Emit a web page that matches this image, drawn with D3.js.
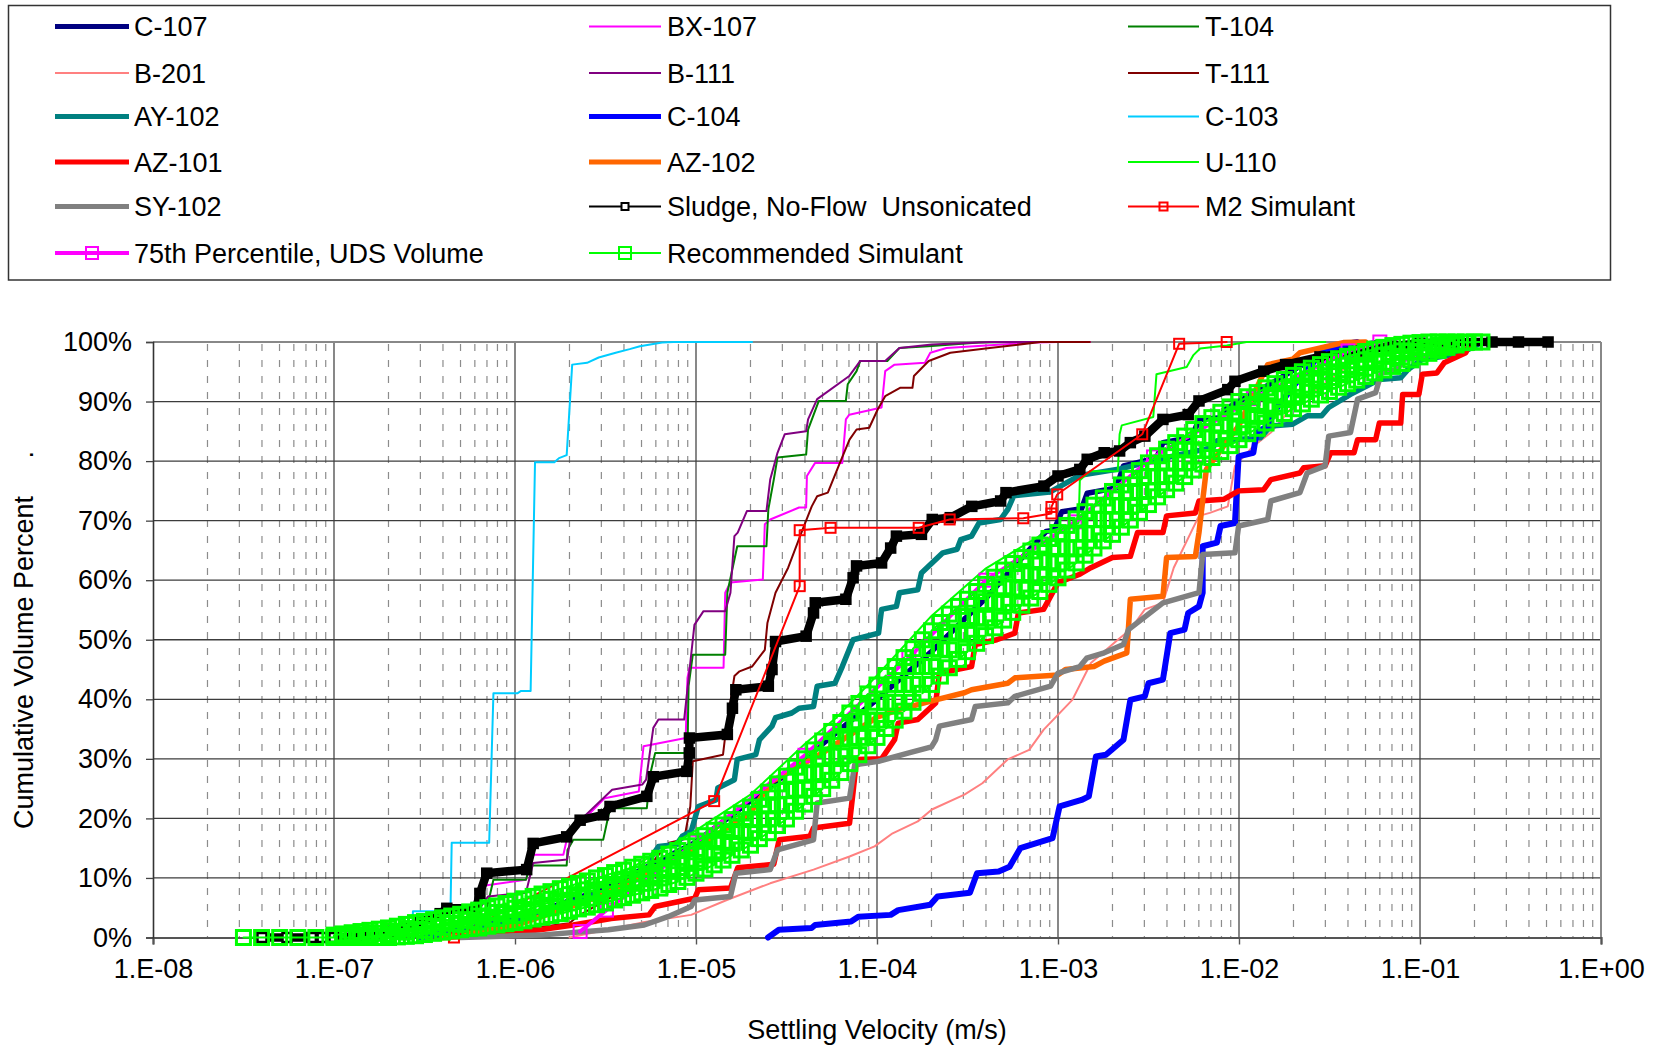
<!DOCTYPE html>
<html><head><meta charset="utf-8">
<script src="https://cdn.jsdelivr.net/npm/d3@7"></script>
<style>body{margin:0;background:#fff}svg{display:block;font-family:Arial,"Liberation Sans",sans-serif}</style>
</head><body><svg id="chart" width="1656" height="1048"></svg>
<script>
// ---------------- data (settling velocity m/s, cumulative volume %) ----------------
const xTickValues = [1e-8,1e-7,1e-6,1e-5,1e-4,1e-3,1e-2,1e-1,1];
const xTickLabels = ["1.E-08","1.E-07","1.E-06","1.E-05","1.E-04","1.E-03","1.E-02","1.E-01","1.E+00"];
const yTickValues = [0,10,20,30,40,50,60,70,80,90,100];
const yTickLabels = ["0%","10%","20%","30%","40%","50%","60%","70%","80%","90%","100%"];

const seriesNames = ["C-107","BX-107","T-104","B-201","B-111","T-111","AY-102","C-104","C-103","AZ-101","AZ-102","U-110","SY-102","Sludge, No-Flow  Unsonicated","M2 Simulant","75th Percentile, UDS Volume","Recommended Simulant"];

const C107 = [[3e-7,0],[1e-6,3],[3e-6,8],[1e-5,16],[3e-5,27],[1e-4,40],[2e-4,48],[4e-4,57],[6e-4,63],[8.6e-4,68.2],[9.5e-4,68.4],[1.05e-3,71.5],[1.35e-3,72],[1.45e-3,74.6],[2.1e-3,75.5],[2.3e-3,79.2],[3.5e-3,80.5],[3.8e-3,83.1],[5.5e-3,84],[6e-3,87],[8e-3,87.3],[8.5e-3,88.8],[1.5e-2,93],[3e-2,98.5],[6e-2,100]];
const BX107 = [[3.5e-7,0],[5.6e-7,3.5],[6.4e-7,8.6],[1.15e-6,9.7],[1.26e-6,13.9],[1.85e-6,13.9],[1.95e-6,17],[3.13e-6,23.4],[4.83e-6,24.5],[5.13e-6,32.1],[8.77e-6,33.5],[8.97e-6,43.6],[9.2e-6,45.3],[1.42e-5,45.3],[1.45e-5,57.9],[1.55e-5,59.6],[2.34e-5,60.1],[2.4e-5,69.4],[2.57e-5,70.2],[3.71e-5,72.2],[4.06e-5,72.2],[4.1e-5,77.5],[4.55e-5,79.7],[6.43e-5,79.7],[6.73e-5,87.0],[7.03e-5,87.8],[1.06e-4,89.0],[1.11e-4,95.1],[1.25e-4,96.2],[1.84e-4,96.5],[1.97e-4,98.2],[2.42e-4,99.0],[7.26e-4,99.9],[1.0e-3,100],[1.5e-3,100]];
const T104 = [[3.5e-7,0],[5.5e-7,3],[7.0e-7,5],[7.6e-7,9.7],[1.15e-6,9.7],[1.21e-6,12.1],[1.93e-6,12.1],[1.95e-6,14.7],[2.1e-6,16.4],[3.07e-6,16.4],[3.35e-6,21.7],[5.35e-6,21.7],[5.57e-6,27.3],[5.95e-6,31],[8.97e-6,31],[9.1e-6,42.2],[9.6e-6,47.5],[1.45e-5,47.5],[1.49e-5,57.9],[1.69e-5,65.7],[2.45e-5,65.7],[2.51e-5,71.9],[2.69e-5,76.9],[2.82e-5,80.6],[4.06e-5,81.1],[4.16e-5,85.3],[4.77e-5,90.1],[6.73e-5,90.1],[6.89e-5,92.9],[7.71e-5,95.1],[8.07e-5,96.8],[1.14e-4,96.8],[1.33e-4,99.0],[1.92e-4,99.3],[3.66e-4,99.9],[6e-4,100],[1e-3,100]];
const B201 = [[2e-6,0],[5e-6,2.5],[9.4e-6,3.8],[1.48e-5,6.3],[2.57e-5,9.1],[4.46e-5,11.4],[7.05e-5,13.6],[9.7e-5,15.3],[1.22e-4,17.5],[1.68e-4,19.5],[2.01e-4,21.5],[3.04e-4,24.0],[3.82e-4,25.9],[5.27e-4,29.9],[6.93e-4,31.5],[8.34e-4,34.9],[1.2e-3,39.9],[1.52e-3,46.1],[2.14e-3,50.0],[2.51e-3,51.7],[3.02e-3,55.1],[3.8e-3,56.2],[4.36e-3,62.1],[6.01e-3,70.8],[6.9e-3,71.3],[8.67e-3,72.4],[9.5e-3,79.2],[1.2e-2,82.5],[1.5e-2,84.8],[1.98e-2,89.2],[2.86e-2,92.6],[3.77e-2,95.4],[5.96e-2,100]];
const B111 = [[3.5e-7,0],[5.5e-7,3],[6.5e-7,5.2],[7.1e-7,6.9],[1.15e-6,7.5],[1.26e-6,12.5],[1.94e-6,13.1],[2.03e-6,17.0],[2.12e-6,18.7],[3.44e-6,24.8],[5.06e-6,25.7],[5.3e-6,26.5],[5.81e-6,35.2],[6.2e-6,36.6],[8.6e-6,36.6],[9.8e-6,52.5],[1.1e-5,54.8],[1.45e-5,54.8],[1.55e-5,57.9],[1.63e-5,67.4],[1.7e-5,68.0],[1.91e-5,71.6],[2.45e-5,71.6],[2.57e-5,76.9],[2.82e-5,81.4],[3.09e-5,84.5],[4.06e-5,85.0],[4.16e-5,87.0],[4.67e-5,90.4],[7.03e-5,94.3],[8.07e-5,96.8],[1.11e-4,96.8],[1.33e-4,99.0],[2.01e-4,99.6],[4.2e-4,100],[1.0e-3,100]];
const T111 = [[6e-7,0],[1.24e-6,1.6],[2.0e-6,2.4],[2.2e-6,3.5],[3.5e-6,7],[5.5e-6,12],[7.1e-6,15.9],[8.6e-6,16.5],[9.3e-6,22.0],[9.6e-6,29.6],[1.41e-5,30.7],[1.45e-5,33.8],[1.63e-5,43.9],[1.74e-5,44.7],[2.04e-5,45.5],[2.4e-5,48.3],[2.48e-5,52.8],[2.75e-5,57.9],[3.23e-5,62.1],[3.88e-5,68.5],[4.36e-5,72.4],[4.67e-5,74.1],[5.35e-5,74.7],[6.14e-5,79.2],[7.05e-5,83.6],[7.71e-5,85.3],[9.06e-5,85.6],[1.01e-4,88.7],[1.11e-4,90.9],[1.34e-4,92.3],[1.57e-4,92.3],[1.6e-4,94.3],[1.93e-4,96.8],[2.54e-4,98.2],[4.2e-4,99.0],[8.0e-4,100],[1.5e-3,100]];
const AY102 = [[3e-7,0],[1e-6,3],[3e-6,7.5],[5.5e-6,10.5],[5.68e-6,13.6],[6.22e-6,15.3],[7.8e-6,15.6],[8.4e-6,17.0],[9.4e-6,17.8],[1.03e-5,22.0],[1.29e-5,23.1],[1.32e-5,25.1],[1.63e-5,26.5],[1.69e-5,29.9],[2.14e-5,30.7],[2.24e-5,33.2],[2.63e-5,35.5],[2.75e-5,36.9],[3.38e-5,37.7],[3.71e-5,38.5],[4.46e-5,38.8],[4.67e-5,42.2],[5.86e-5,42.7],[6.43e-5,45.5],[7.38e-5,50.0],[1.02e-4,51.1],[1.06e-4,55.1],[1.28e-4,55.6],[1.33e-4,57.9],[1.68e-4,58.4],[1.76e-4,61.2],[2.31e-4,64.6],[2.77e-4,65.2],[2.9e-4,66.8],[3.33e-4,67.4],[3.66e-4,69.6],[4.82e-4,70.2],[5.28e-4,71.9],[5.7e-4,74.2],[9.0e-4,74.8],[1.32e-3,77.6],[2.2e-3,78.7],[4e-3,80.6],[7.2e-3,82.3],[7.55e-3,83.4],[1.31e-2,83.9],[1.5e-2,85.9],[1.98e-2,86.2],[2.38e-2,87.6],[2.86e-2,87.6],[3.13e-2,89.0],[4.13e-2,91.2],[5.96e-2,93.7],[7.83e-2,94.0],[8.59e-2,95.4],[1.03e-1,97.1],[1.36e-1,97.6],[1.79e-1,98.5],[2.2e-1,100]];
const C104 = [[2.5e-5,0],[2.87e-5,1.3],[4.35e-5,1.6],[4.55e-5,2.1],[7.19e-5,2.7],[7.88e-5,3.5],[1.19e-4,3.8],[1.31e-4,4.6],[1.97e-4,5.5],[2.16e-4,6.9],[3.26e-4,7.5],[3.57e-4,10.8],[4.7e-4,11.1],[5.4e-4,11.9],[6.19e-4,15.0],[9.33e-4,16.7],[1.02e-3,22.0],[1.35e-3,23.1],[1.48e-3,23.7],[1.62e-3,30.4],[1.84e-3,30.7],[2.3e-3,33.2],[2.51e-3,39.9],[3.02e-3,40.5],[3.16e-3,42.7],[3.8e-3,43.3],[4.17e-3,51.1],[5.0e-3,51.7],[5.24e-3,54.5],[6.01e-3,55.6],[6.3e-3,57.9],[6.3e-3,65.7],[7.55e-3,66.3],[7.91e-3,69.1],[9.5e-3,69.6],[9.95e-3,80.8],[1.2e-2,81.4],[1.25e-2,84.8],[1.44e-2,85.9],[1.5e-2,87.6],[2.0e-2,92.6],[2.86e-2,98.2],[3.77e-2,99.6],[4.5e-2,100]];
const C103 = [[2.7e-7,0],[2.73e-7,4.4],[4.4e-7,4.4],[4.47e-7,15.9],[7.2e-7,15.9],[7.6e-7,41],[1.03e-6,41],[1.08e-6,41.4],[1.22e-6,41.4],[1.29e-6,79.8],[1.65e-6,79.8],[1.75e-6,80.5],[1.93e-6,81],[2.07e-6,96.2],[2.5e-6,96.5],[2.9e-6,97.4],[3.6e-6,98.2],[4.3e-6,98.8],[4.9e-6,99.3],[6.5e-6,99.9],[7.5e-6,100],[2.04e-5,100]];
const AZ101 = [[4e-7,0],[8e-7,0.5],[1.37e-6,1.3],[2.1e-6,2.1],[3.4e-6,3.2],[5.5e-6,3.8],[5.94e-6,5.2],[9.84e-6,6.6],[1.03e-5,8.0],[1.55e-5,8.3],[1.7e-5,11.7],[2.69e-5,12.3],[2.88e-5,16.4],[4.26e-5,17.0],[4.46e-5,18.4],[7.05e-5,19.2],[7.38e-5,24.5],[7.71e-5,29.9],[1.06e-4,30.0],[1.25e-4,33.2],[1.31e-4,36.0],[1.68e-4,36.6],[2.11e-4,39.4],[2.21e-4,44.4],[3.33e-4,45.5],[3.49e-4,49.2],[4.59e-4,50.0],[5.77e-4,51.1],[6.04e-4,54.5],[8.32e-4,55.1],[1.0e-3,59.6],[1.32e-3,61.0],[1.52e-3,62.1],[2.0e-3,63.8],[2.51e-3,64.0],[2.75e-3,68.0],[3.8e-3,68.0],[3.98e-3,70.8],[5.74e-3,71.3],[6.01e-3,73.3],[8.28e-3,73.6],[9.95e-3,75.0],[1.37e-2,75.2],[1.5e-2,76.9],[2.17e-2,78.0],[2.28e-2,78.9],[2.99e-2,79.2],[3.21e-2,81.4],[4.32e-2,81.4],[4.52e-2,83.6],[5.69e-2,83.6],[5.96e-2,86.4],[7.83e-2,86.4],[8.02e-2,91.2],[9.86e-2,91.2],[1.03e-1,94.6],[1.24e-1,94.8],[1.36e-1,96.5],[1.79e-1,98.2],[1.87e-1,99.6],[1.96e-1,100]];
const AZ102 = [[4e-7,0],[1e-6,2],[3e-6,7],[1e-5,15],[2.0e-5,21],[2.63e-5,26.2],[5e-5,31],[1.0e-4,37],[1.33e-4,38.3],[1.68e-4,39.1],[2.11e-4,39.9],[3.04e-4,41.1],[3.33e-4,41.6],[5.28e-4,42.7],[5.78e-4,43.6],[1.0e-3,44.1],[1.1e-3,45.0],[1.58e-3,45.5],[1.8e-3,46.4],[2.4e-3,47.8],[2.51e-3,56.8],[3.8e-3,57.3],[3.98e-3,63.8],[5.74e-3,64.0],[6.01e-3,68.0],[6.6e-3,78.6],[8e-3,82],[1e-2,86],[1.44e-2,96.2],[1.98e-2,97.1],[2.17e-2,98.2],[3.77e-2,99.9],[5e-2,100]];
const U110 = [[2e-7,0],[5e-7,2],[1e-6,4],[2e-6,7],[4e-6,11],[1e-5,18],[2e-5,24],[4.06e-5,32.7],[6e-5,37],[1e-4,44],[2e-4,54],[4e-4,62],[8.5e-4,68],[1.3e-3,69.6],[1.32e-3,76.8],[1.5e-3,78.3],[2.14e-3,78.3],[2.19e-3,84.5],[2.25e-3,86.0],[3.36e-3,87.4],[3.5e-3,94.6],[5.14e-3,95.8],[5.6e-3,97.8],[6.1e-3,98.9],[8.55e-3,99.4],[1.1e-2,100],[3e-2,100]];
const SY102 = [[5e-7,0],[1.37e-6,0.4],[3.28e-6,1.3],[5.18e-6,2.1],[7e-6,3.5],[9.4e-6,5.2],[9.84e-6,6.3],[1.55e-5,6.9],[1.66e-5,10.8],[2.57e-5,11.4],[2.82e-5,14.7],[4.46e-5,16.4],[4.67e-5,22.6],[7.05e-5,23.4],[7.53e-5,29.0],[1.02e-4,29.6],[1.5e-4,31],[2.0e-4,32],[2.11e-4,33.2],[2.21e-4,35.5],[3.33e-4,36.6],[3.49e-4,38.8],[5.28e-4,39.4],[5.78e-4,40.5],[9.1e-4,42.2],[1.0e-3,44.4],[1.32e-3,45.5],[1.44e-3,46.9],[1.8e-3,47.8],[2.3e-3,49.2],[2.45e-3,51.7],[3.8e-3,56.2],[6.01e-3,57.9],[6.3e-3,64.3],[9.5e-3,64.6],[9.95e-3,69.1],[1.44e-2,70.2],[1.5e-2,73.3],[2.17e-2,74.7],[2.38e-2,78.0],[2.99e-2,79.2],[3.13e-2,84.2],[4.13e-2,84.8],[4.52e-2,90.4],[5.69e-2,91.5],[6.1e-2,94.8],[7.48e-2,95.4],[8.2e-2,97.1],[1.08e-1,97.6],[1.49e-1,99.3],[1.8e-1,100]];
const SLUDGE = [[4.0e-8,0],[5.5e-8,0],[7.5e-8,0],[8.6e-8,0],[1.0e-7,0],[1.35e-7,0.2],[2.0e-7,1.0],[3.0e-7,2.5],[3.86e-7,4.0],[4.2e-7,4.9],[6.1e-7,4.9],[6.4e-7,7.4],[6.98e-7,10.8],[1.16e-6,11.4],[1.26e-6,15.8],[1.93e-6,16.9],[2.29e-6,19.7],[3.08e-6,20.6],[3.35e-6,22.0],[5.35e-6,23.7],[5.81e-6,27.0],[8.9e-6,27.9],[9.18e-6,31.0],[9.2e-6,33.5],[1.49e-5,34.1],[1.59e-5,38.5],[1.66e-5,41.6],[2.51e-5,42.2],[2.63e-5,45.0],[2.75e-5,49.7],[4.06e-5,50.6],[4.46e-5,54.5],[4.56e-5,56.2],[6.73e-5,56.8],[7.38e-5,60.4],[7.71e-5,62.4],[1.06e-4,62.9],[1.19e-4,65.4],[1.28e-4,67.4],[1.76e-4,67.7],[2.02e-4,70.2],[2.54e-4,70.5],[3.34e-4,72.4],[4.82e-4,73.3],[5.16e-4,74.7],[8.36e-4,75.8],[1.0e-3,77.5],[1.32e-3,78.6],[1.45e-3,80.3],[1.8e-3,81.4],[2.19e-3,81.7],[2.51e-3,83.1],[3.02e-3,84.2],[3.8e-3,87.0],[5.24e-3,87.8],[6.01e-3,90.1],[8.67e-3,92.0],[9.5e-3,93.4],[1.37e-2,95.1],[1.81e-2,96.2],[2.8e-2,97.5],[4.5e-2,98.5],[7.0e-2,99.3],[1.0e-1,99.8],[1.5e-1,100],[2.5e-1,100],[3.5e-1,100],[5.1e-1,100]];
const M2 = [[4.6e-7,0],[1.26e-5,22.9],[3.74e-5,59.0],[3.74e-5,68.4],[5.54e-5,68.8],[1.7e-4,68.8],[2.52e-4,70.2],[6.43e-4,70.4],[9.2e-4,71.2],[9.2e-4,72.3],[9.9e-4,74.4],[2.92e-3,84.5],[4.67e-3,99.7],[8.55e-3,100]];
const P75 = [[2.29e-6,1.0],[3.2e-6,4.6],[1e-5,16],[4e-5,30.6],[1.5e-4,47],[4e-4,60],[1.24e-3,69.8],[3.37e-3,80.7],[1.2e-2,90.5],[4e-2,98.5],[6e-2,100]];
// Recommended Simulant: columns of [velocity, cumulative % values read across the marker band]
const REC_COLUMNS = [
 [3.16e-8,0],[3.98e-8,0],[5.01e-8,0],[6.31e-8,0],[7.94e-8,0],
 [1e-7,0.4,0.1,0],[1.26e-7,0.8,0.5,0.1,0],[1.58e-7,1.2,0.7,0.3,0],[2e-7,1.6,1.1,0.5,0],
 [2.51e-7,2.2,1.5,0.9,0.2],[3.16e-7,2.7,2.0,1.2,0.5],[3.98e-7,3.3,2.5,1.7,0.9],[5.01e-7,3.9,3.0,2.2,1.3],
 [6.31e-7,4.6,3.6,2.6,1.6],[7.94e-7,5.3,4.2,3.2,2.1],[1e-6,6.1,4.9,3.7,2.5],[1.26e-6,6.9,5.6,4.4,3.1],
 [1.58e-6,7.7,6.4,5.0,3.7],[2e-6,8.6,7.2,5.8,4.4],[2.51e-6,9.5,8.0,6.6,5.1],[3.16e-6,10.4,8.9,7.3,5.8],
 [3.98e-6,11.3,9.8,8.2,6.7],[5.01e-6,12.3,10.7,9.1,7.5],[6.31e-6,13.3,11.6,10.0,8.3],[7.94e-6,14.6,12.9,11.1,9.4],
 [1e-5,16.2,14.4,12.6,10.8],[1.26e-5,18.0,16.1,14.1,12.2],[1.58e-5,19.8,17.8,15.8,13.8],[2e-5,21.9,19.8,17.6,15.5],
 [2.51e-5,24.4,22.1,19.9,17.6],[3.16e-5,27.1,24.7,22.3,19.9],[3.98e-5,30.0,27.5,24.9,22.4],[5.01e-5,33.0,30.3,27.7,25.0],
 [6.31e-5,36.1,33.3,30.5,27.7],[7.94e-5,39.3,36.4,33.6,30.7],[1e-4,42.4,39.5,36.5,33.6],[1.26e-4,45.5,42.5,39.5,36.5],
 [1.58e-4,48.5,45.5,42.5,39.5],[2e-4,51.5,48.5,45.5,42.5],[2.51e-4,54.3,51.3,48.3,45.3],[3.16e-4,56.8,53.9,50.9,48.0],
 [3.98e-4,59.3,56.4,53.6,50.7],[5.01e-4,61.7,58.9,56.1,53.3],[6.31e-4,63.8,61.1,58.5,55.8],[7.94e-4,65.9,63.3,60.7,58.1],
 [1e-3,68.0,65.5,62.9,60.4],[1.26e-3,70.3,67.8,65.4,62.9],[1.58e-3,72.6,70.2,67.8,65.4],[2e-3,74.9,72.5,70.1,67.7],
 [2.51e-3,77.1,74.8,72.4,70.1],[3.16e-3,79.7,77.4,75.0,72.7],[3.98e-3,82.0,79.7,77.5,75.2],[5.01e-3,84.2,81.9,79.7,77.4],
 [6.31e-3,86.3,84.0,81.8,79.5],[7.94e-3,88.2,86.0,83.8,81.6],[1e-2,90.0,87.9,85.7,83.6],[1.26e-2,91.5,89.5,87.5,85.5],
 [1.58e-2,93.0,91.1,89.1,87.2],[2e-2,94.4,92.5,90.7,88.8],[2.51e-2,95.6,93.9,92.1,90.4],[3.16e-2,96.7,95.0,93.4,91.7],
 [3.98e-2,97.6,96.1,94.5,93.0],[5.01e-2,98.4,97.0,95.6,94.2],[6.31e-2,99.1,97.8,96.6,95.3],[7.94e-2,99.6,98.5,97.5,96.4],
 [1e-1,99.9,99.1,98.3,97.5],[1.26e-1,100,99.5,99.1,98.6],[1.58e-1,100,99.9,99.7,99.5],[2e-1,100],[2.2e-1,100]
];
const REC_COLUMNS_MID = [
 [1.12e-7,0.6,0.2,0],[1.41e-7,1.0,0.4,0],[1.78e-7,1.4,0.7,0],[2.24e-7,1.9,1.0,0.1],[2.82e-7,2.5,1.4,0.3],
 [3.55e-7,3.0,1.9,0.7],[4.47e-7,3.6,2.4,1.1],[5.62e-7,4.3,2.9,1.5],[7.08e-7,5.0,3.4,1.9],[8.91e-7,5.7,4.0,2.3],
 [1.12e-6,6.5,4.7,2.8],[1.41e-6,7.3,5.4,3.4],[1.78e-6,8.2,6.1,4.0],[2.24e-6,9.1,6.9,4.8],[2.82e-6,10.0,7.7,5.5],
 [3.55e-6,10.9,8.6,6.3],[4.47e-6,11.8,9.5,7.1],[5.62e-6,12.8,10.4,7.9],[7.08e-6,14.0,11.4,8.9],[8.91e-6,15.4,12.8,10.1],
 [1.12e-5,17.1,14.3,11.5],[1.41e-5,18.9,16.0,13.0],[1.78e-5,20.9,17.8,14.7],[2.24e-5,23.2,19.9,16.6],[2.82e-5,25.8,22.3,18.8],
 [3.55e-5,28.6,24.9,21.2],[4.47e-5,31.5,27.6,23.7],[5.62e-5,34.6,30.5,26.4],[7.08e-5,37.7,33.5,29.2],[8.91e-5,40.9,36.5,32.2],
 [1.12e-4,44.0,39.5,35.1],[1.41e-4,47.0,42.5,38.0],[1.78e-4,50.0,45.5,41.0],[2.24e-4,52.9,48.4,43.9],[2.82e-4,55.6,51.1,46.7],
 [3.55e-4,58.1,53.7,49.4],[4.47e-4,60.5,56.3,52.0],[5.62e-4,62.8,58.7,54.6],[7.08e-4,64.9,60.9,57.0],[8.91e-4,67.0,63.1,59.3],
 [1.12e-3,69.2,65.4,61.7],[1.41e-3,71.5,67.8,64.2],[1.78e-3,73.8,70.2,66.6],[2.24e-3,76.0,72.5,68.9],[2.82e-3,78.4,74.9,71.4],
 [3.55e-3,80.9,77.4,74.0],[4.47e-3,83.1,79.7,76.3],[5.62e-3,85.3,81.9,78.5],[7.08e-3,87.3,83.9,80.6],[8.91e-3,89.1,85.9,82.6],
 [1.12e-2,90.8,87.7,84.6],[1.41e-2,92.3,89.3,86.4],[1.78e-2,93.7,90.9,88.0],[2.24e-2,95.0,92.3,89.6],[2.82e-2,96.2,93.6,91.1],
 [3.55e-2,97.2,94.8,92.4],[4.47e-2,98.0,95.8,93.6],[5.62e-2,98.8,96.8,94.8],[7.08e-2,99.4,97.6,95.9],[8.91e-2,99.8,98.4,97.0],
 [1.12e-1,100,99.0,98.1],[1.41e-1,100,99.6,99.1],[1.78e-1,100,99.9]
];
// flatten the columns into the plotted point sequence (snaking down/up each column)
const REC = REC_COLUMNS.concat(REC_COLUMNS_MID).sort((a,b)=>a[0]-b[0]).flatMap((c,i)=>{
  const ps = c.slice(1);
  return (i%2 ? ps.slice().reverse() : ps).map(p=>[c[0],p]);
});

const seriesData = [C107,BX107,T104,B201,B111,T111,AY102,C104,C103,AZ101,AZ102,U110,SY102,SLUDGE,M2,P75,REC];

// ---------------- styles ----------------
const styles = [
  {color:"#000080",w:5.5,lw:5},
  {color:"#ff00ff",w:2,lw:2},
  {color:"#008000",w:2,lw:2},
  {color:"#ff8080",w:2,lw:2},
  {color:"#800080",w:2,lw:2},
  {color:"#800000",w:2,lw:2},
  {color:"#008080",w:5.5,lw:5},
  {color:"#0000ff",w:6,lw:5},
  {color:"#00ccff",w:2,lw:2},
  {color:"#ff0000",w:5.5,lw:5},
  {color:"#ff6600",w:5.5,lw:5},
  {color:"#00ff00",w:2,lw:2},
  {color:"#808080",w:5.5,lw:5},
  {color:"#000000",w:8.5,lw:2,marker:9,mstroke:2.5,lmarker:7,sludge:true},
  {color:"#ff0000",w:2,lw:2,marker:10,mfill:"none",mstroke:2,lmarker:8},
  {color:"#ff00ff",w:4,lw:4,marker:13,mfill:"none",mstroke:2,lmarker:12},
  {color:"#00ff00",w:2,lw:2,marker:14,mfill:"none",mstroke:3,lmarker:12}
];

// ---------------- layout ----------------
const svg = d3.select("#chart");
const L = 153, R = 1601, T = 342, B = 937.5;
const x = d3.scaleLog().domain([1e-8,1]).range([L,R]);
const y = d3.scaleLinear().domain([0,100]).range([B,T]);

svg.append("rect").attr("width",1656).attr("height",1048).attr("fill","#fff");

const g = svg.append("g");
for (let e=-8;e<0;e++){
  for (let m=2;m<=9;m++){
    const xv = x(m*Math.pow(10,e));
    g.append("line").attr("x1",xv).attr("x2",xv).attr("y1",T+2).attr("y2",B)
      .attr("stroke","#8c8c8c").attr("stroke-width",1.2).attr("stroke-dasharray","7,9");
  }
}
xTickValues.slice(1,-1).forEach(v=>{
  g.append("line").attr("x1",x(v)).attr("x2",x(v)).attr("y1",T).attr("y2",B)
   .attr("stroke","#555").attr("stroke-width",1.4);
});
yTickValues.slice(1,-1).forEach(v=>{
  g.append("line").attr("x1",L).attr("x2",R).attr("y1",y(v)).attr("y2",y(v))
   .attr("stroke","#3c3c3c").attr("stroke-width",1.3);
});
g.append("line").attr("x1",L).attr("x2",R).attr("y1",T).attr("y2",T).attr("stroke","#888").attr("stroke-width",2);
g.append("line").attr("x1",R).attr("x2",R).attr("y1",T).attr("y2",B).attr("stroke","#888").attr("stroke-width",2);

const xAxis = d3.axisBottom(x).tickValues(xTickValues).tickFormat((d,i)=>xTickLabels[i]).tickSize(7).tickPadding(14);
const yAxis = d3.axisLeft(y).tickValues(yTickValues).tickFormat((d,i)=>yTickLabels[i]).tickSize(7).tickPadding(14);
const gx = svg.append("g").attr("transform",`translate(0,${B})`).call(xAxis);
const gy = svg.append("g").attr("transform",`translate(${L},0)`).call(yAxis);
gx.select(".domain").attr("stroke","#555").attr("stroke-width",2.2);
gy.select(".domain").attr("stroke","#333").attr("stroke-width",1.6);
gx.selectAll(".tick line").attr("stroke","#555").attr("stroke-width",1.4);
gy.selectAll(".tick line").attr("stroke","#444").attr("stroke-width",1.3);
gx.selectAll("text").attr("font-size",27).attr("font-family","Arial, 'Liberation Sans', sans-serif").attr("fill","#000");
gy.selectAll("text").attr("font-size",27).attr("font-family","Arial, 'Liberation Sans', sans-serif").attr("fill","#000");

svg.append("text").attr("x",(L+R)/2).attr("y",1039).attr("text-anchor","middle")
  .attr("font-size",27).text("Settling Velocity (m/s)");
svg.append("text").attr("transform","translate(33,640) rotate(-90)").attr("text-anchor","middle")
  .attr("font-size",27).style("white-space","pre").attr("xml:space","preserve").text("Cumulative Volume Percent     .");

// series
const line = d3.line().x(d=>x(d[0])).y(d=>y(d[1]));
const plot = svg.append("g");
seriesData.forEach((data,i)=>{
  const s = styles[i];
  plot.append("path").datum(data).attr("d",line).attr("fill","none")
    .attr("stroke",s.color).attr("stroke-width",s.w)
    .attr("stroke-linejoin","round").attr("stroke-linecap","round");
  if (s.marker){
    plot.selectAll(null).data(data).enter().append("rect")
      .attr("x",d=>x(d[0])-s.marker/2).attr("y",d=>y(d[1])-s.marker/2)
      .attr("width",s.marker).attr("height",s.marker)
      .attr("fill",d=> s.sludge ? (d[1] > 0 ? "#000" : "#fff") : s.mfill)
      .attr("stroke",s.color).attr("stroke-width",s.mstroke);
  }
});

// ---------------- legend ----------------
const leg = svg.append("g");
leg.append("rect").attr("x",8.5).attr("y",5.5).attr("width",1602).attr("height",274.5)
  .attr("fill","#fff").attr("stroke","#333").attr("stroke-width",1.5);
const colX = [[55,129,134],[589,661,667],[1128,1199,1205]];
const rowY = [26.5,73,116.5,162,206.5,253];
seriesNames.forEach((name,i)=>{
  const s = styles[i];
  const r = Math.floor(i/3), c = i%3;
  const [x1,x2,tx] = colX[c];
  const yy = rowY[r];
  leg.append("line").attr("x1",x1).attr("x2",x2).attr("y1",yy).attr("y2",yy)
    .attr("stroke",s.color).attr("stroke-width",s.lw);
  if (s.lmarker){
    const m = s.lmarker, cx=(x1+x2)/2;
    leg.append("rect").attr("x",cx-m/2).attr("y",yy-m/2).attr("width",m).attr("height",m)
      .attr("fill",s.sludge?"#fff":"none").attr("stroke",s.color).attr("stroke-width",2);
  }
  leg.append("text").attr("x",tx).attr("y",yy+9.5).attr("font-size",27)
    .style("white-space","pre").attr("xml:space","preserve").text(name);
});
</script></body></html>
